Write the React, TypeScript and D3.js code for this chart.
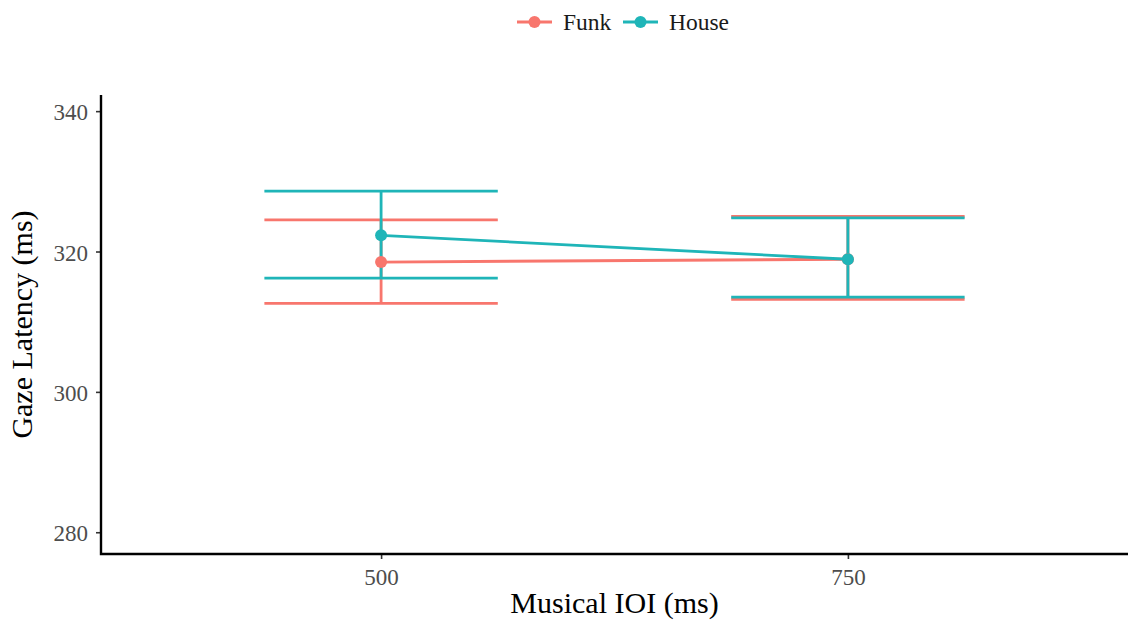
import React, { useRef, useEffect } from "react";
import { select, scaleLinear, scalePoint, axisBottom, axisLeft, line } from "d3";

// data
const iois = ["500", "750"];
const funkMean = [318.5, 318.9];
const funkLow = [312.6, 313.2];
const funkHigh = [324.5, 325.0];
const houseMean = [322.3, 318.9];
const houseLow = [316.2, 313.5];
const houseHigh = [328.6, 324.8];
const yTicks = [280, 300, 320, 340];

const series = [
  { name: "Funk", color: "#F8766D", mean: funkMean, low: funkLow, high: funkHigh },
  { name: "House", color: "#1FB5B8", mean: houseMean, low: houseLow, high: houseHigh },
];

const W = 1128;
const H = 622;
const FONT = "'Liberation Serif', 'Times New Roman', serif";

const App = () => {
  const svgRef = useRef<SVGSVGElement>(null);

  useEffect(() => {
    const svg = select(svgRef.current);
    svg.selectAll("*").remove();

    const left = 101;
    const right = 1128;
    const top = 95;
    const bottom = 554;

    //scales
    const x = scalePoint<string>().domain(iois).range([left, right]).padding(0.6);
    const y = scaleLinear().domain([276.9, 342.3]).range([bottom, top]);
    const half = x.step() * 0.25;

    //axes
    const gx = svg
      .append("g")
      .attr("transform", `translate(0,${bottom})`)
      .call(axisBottom(x).tickSize(5).tickPadding(6));
    const gy = svg
      .append("g")
      .attr("transform", `translate(${left},0)`)
      .call(axisLeft(y).tickValues(yTicks).tickSize(5).tickPadding(8));

    [gx, gy].forEach((g) => {
      g.select(".domain").remove();
      g.selectAll("line").attr("stroke", "#333").attr("stroke-width", 1.6);
      g.selectAll("text")
        .attr("fill", "#4D4D4D")
        .style("font-family", FONT)
        .style("font-size", "23px");
    });
    gx.selectAll("text").attr("dy", "0.87em");
    gy.selectAll("text").attr("dy", "0.38em");

    //axis lines
    svg
      .append("path")
      .attr("d", `M${left},${top}V${bottom}H${right}`)
      .attr("fill", "none")
      .attr("stroke", "#000")
      .attr("stroke-width", 2.4);

    //error bars
    series.forEach((s) => {
      const g = svg.append("g");
      iois.forEach((k, i) => {
        const cx = x(k) as number;
        g.append("path")
          .attr(
            "d",
            `M${cx - half},${y(s.high[i])}H${cx + half}M${cx},${y(s.high[i])}V${y(s.low[i])}M${cx - half},${y(s.low[i])}H${cx + half}`
          )
          .attr("fill", "none")
          .attr("stroke", s.color)
          .attr("stroke-width", 2.8);
      });
    });

    //lines + points
    const ln = line<number>()
      .x((d, i) => x(iois[i]) as number)
      .y((d) => y(d));
    series.forEach((s) => {
      svg
        .append("path")
        .attr("d", ln(s.mean))
        .attr("fill", "none")
        .attr("stroke", s.color)
        .attr("stroke-width", 2.8);
      svg
        .append("g")
        .selectAll("circle")
        .data(s.mean)
        .join("circle")
        .attr("cx", (d, i) => x(iois[i]) as number)
        .attr("cy", (d) => y(d))
        .attr("r", 6)
        .attr("fill", s.color);
    });

    //axis titles
    svg
      .append("text")
      .attr("x", (left + right) / 2)
      .attr("y", 613)
      .attr("text-anchor", "middle")
      .style("font-family", FONT)
      .style("font-size", "30px")
      .attr("fill", "#000")
      .text("Musical IOI (ms)");
    svg
      .append("text")
      .attr("transform", `translate(32,${(top + bottom) / 2}) rotate(-90)`)
      .attr("text-anchor", "middle")
      .style("font-family", FONT)
      .style("font-size", "30px")
      .attr("fill", "#000")
      .text("Gaze Latency (ms)");

    //legend
    const legX = [517, 623];
    series.forEach((s, i) => {
      const g = svg.append("g").attr("transform", `translate(${legX[i]},22)`);
      g.append("line")
        .attr("x1", 0)
        .attr("x2", 35)
        .attr("stroke", s.color)
        .attr("stroke-width", 2.8);
      g.append("circle").attr("cx", 17.5).attr("r", 6).attr("fill", s.color);
      g.append("text")
        .attr("x", 46)
        .attr("dy", "0.35em")
        .style("font-family", FONT)
        .style("font-size", "23.5px")
        .attr("fill", "#1a1a1a")
        .text(s.name);
    });
  }, []);

  return (
    <div style={{ position: "absolute", left: 0, top: 0 }}>
      <svg ref={svgRef} width={W} height={H} style={{ display: "block", background: "#fff" }} />
    </div>
  );
};

export default App;
